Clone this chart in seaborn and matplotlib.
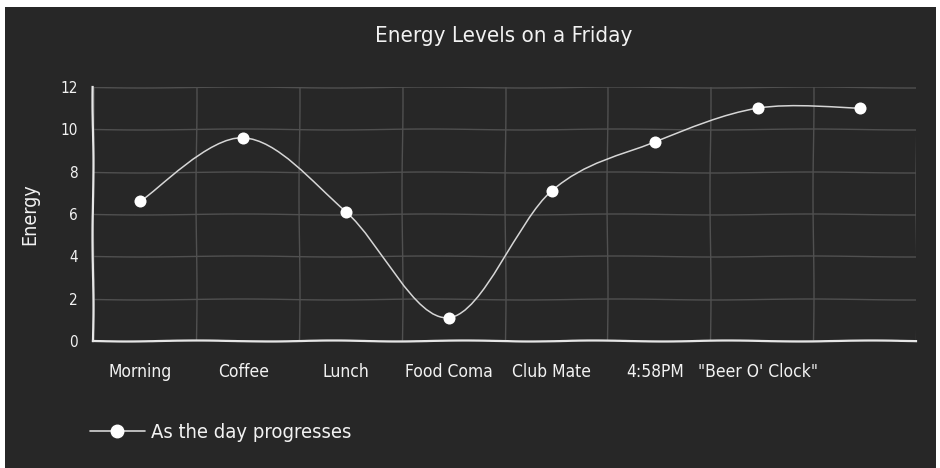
import numpy as np
import pandas as pd
import matplotlib
matplotlib.use("Agg")
import matplotlib.pyplot as plt
import seaborn as sns
from matplotlib.path import Path
from matplotlib.patches import PathPatch, Rectangle
from matplotlib.lines import Line2D

# values
stages = ["Morning", "Coffee", "Lunch", "Food Coma", "Club Mate", "4:58PM", "\"Beer O' Clock\"", ""]
energy = [6.6, 9.6, 6.1, 1.1, 7.1, 9.4, 11.0, 11.0]
y_ticks = [0, 2, 4, 6, 8, 10, 12]
series_name = "As the day progresses"
chart_title = "Energy Levels on a Friday"

BG = "#272727"
FG = "#f2f2f2"
GRID = "#505050"

sns.set_theme(style="dark", rc={
    "axes.facecolor": BG,
    "figure.facecolor": "white",
    "text.color": FG,
    "xtick.color": FG,
    "ytick.color": FG,
    "axes.labelcolor": FG,
})
plt.rcParams["font.family"] = ["DejaVu Sans"]
plt.rcParams["font.stretch"] = "condensed"
# hand drawn look for grid and axes
plt.rcParams["path.sketch"] = (0.5, 200, 1.5)


# cardinal (catmull-rom) spline through the points, drawn as bezier path
def smoothPath(xs, ys):
    pts = np.column_stack([xs, ys]).astype(float)
    padded = np.vstack([pts[0], pts, pts[-1]])
    verts = [pts[0]]
    codes = [Path.MOVETO]
    for i in range(len(pts) - 1):
        p0, p1, p2, p3 = padded[i], padded[i + 1], padded[i + 2], padded[i + 3]
        verts += [p1 + (p2 - p0) / 6, p2 - (p3 - p1) / 6, p2]
        codes += [Path.CURVE4] * 3
    return Path(verts, codes)


df = pd.DataFrame({"stage": stages, "energy": energy, "pos": np.arange(len(stages))})

fig = plt.figure(figsize=(9.4, 4.68), dpi=100)
back = Rectangle((5 / 940, 0), 931 / 940, 461 / 468, transform=fig.transFigure,
                 facecolor=BG, edgecolor="none", zorder=-10)
back.set_sketch_params(None)
fig.add_artist(back)

ax = fig.add_axes([93 / 940, 1 - 341 / 468, 823 / 940, 254 / 468])
ax.set_facecolor(BG)
ax.patch.set_sketch_params(None)

curve = PathPatch(smoothPath(df["pos"], df["energy"]), facecolor="none",
                  edgecolor="#d6d6d6", linewidth=1.1, zorder=3)
curve.set_sketch_params(None)
ax.add_patch(curve)

sns.scatterplot(data=df, x="pos", y="energy", ax=ax, s=75, color="white",
                edgecolor="white", linewidth=0, zorder=4, legend=False)
for coll in ax.collections:
    coll.set_sketch_params(None)

ax.set_xlim(-0.46, len(stages) - 0.46)
ax.set_ylim(0, 12)
labelled = [i for i, s in enumerate(stages) if s]
ax.set_xticks(labelled)
ax.set_xticklabels([stages[i] for i in labelled], fontsize=12.5)
ax.set_xticks(np.arange(-0.46, len(stages), 1), minor=True)
ax.set_yticks(y_ticks)
ax.set_yticklabels([str(v) for v in y_ticks], fontsize=11)
ax.tick_params(axis="x", which="major", length=5, width=1, pad=11, colors=FG)
ax.tick_params(axis="x", which="minor", length=0)
ax.tick_params(axis="y", length=6, width=1, pad=5, colors=FG)

ax.grid(which="minor", axis="x", color=GRID, linewidth=1)
ax.grid(which="major", axis="y", color=GRID, linewidth=1)
ax.grid(which="major", axis="x", visible=False)

for side in ["top", "right"]:
    ax.spines[side].set_visible(False)
for side in ["left", "bottom"]:
    ax.spines[side].set_color("#e6e6e6")
    ax.spines[side].set_linewidth(1.6)
    ax.spines[side].set_sketch_params(0.5, 150, 2)

ax.set_xlabel("")
ax.set_ylabel("Energy", fontsize=14, color=FG)
ax.yaxis.set_label_coords(-54 / 823, 0.5)

fig.text(504 / 940, 1 - 36 / 468, chart_title, ha="center", va="center",
         fontsize=16, color=FG)

handle = Line2D([], [], color="#d6d6d6", linewidth=1.2, marker="o",
                markersize=9, markerfacecolor="white", markeredgecolor="white")
handle.set_sketch_params(None)
leg = fig.legend(handles=[handle], labels=[series_name], loc="center left",
                 bbox_to_anchor=(72 / 940, 1 - 433 / 468), frameon=False,
                 handlelength=2.7, handletextpad=0.3, fontsize=14.5)
for t in leg.get_texts():
    t.set_color(FG)

fig.savefig("out.png", dpi=100)
